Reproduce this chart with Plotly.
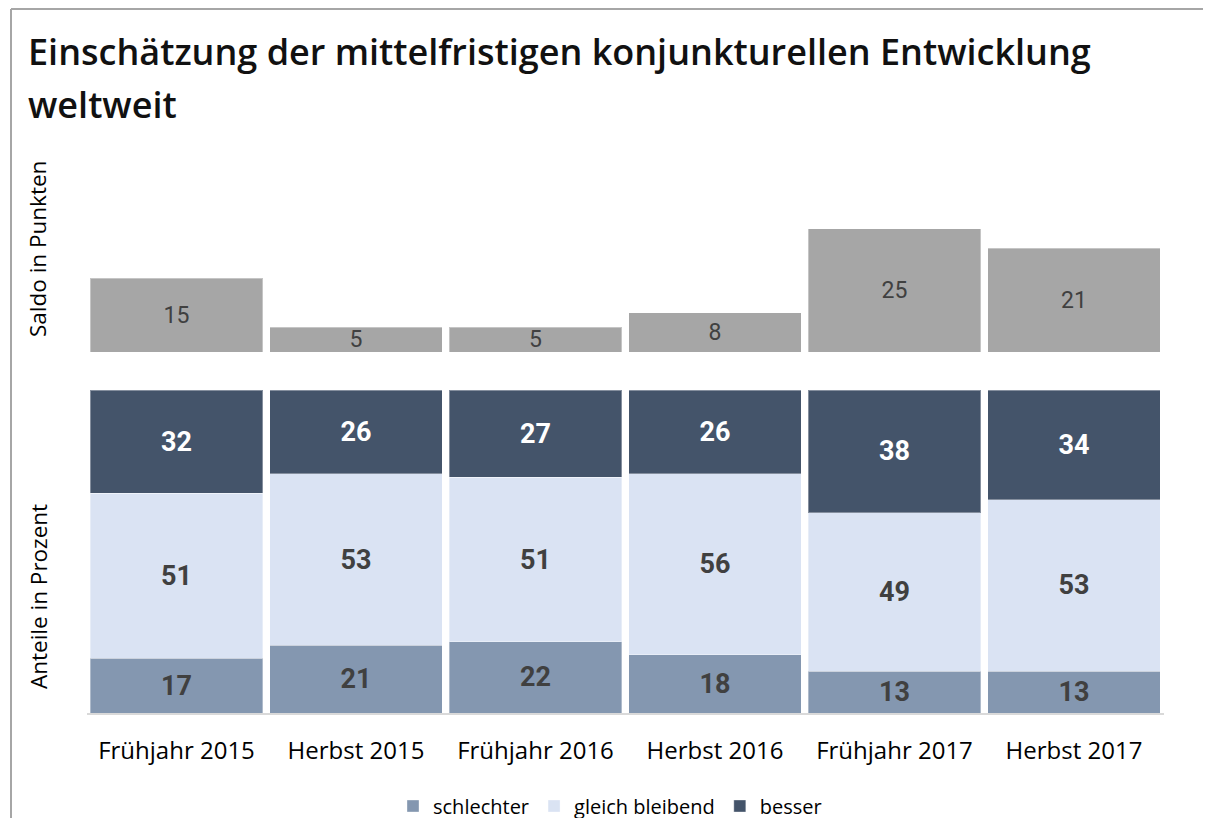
import plotly.graph_objects as go

# Kategorien (Befragungswellen)
wellen = ["Frühjahr 2015", "Herbst 2015", "Frühjahr 2016", "Herbst 2016", "Frühjahr 2017", "Herbst 2017"]

# Saldo in Punkten
saldo = [15, 5, 5, 8, 25, 21]

# Anteile in Prozent
schlechter = [17, 21, 22, 18, 13, 13]
gleich_bleibend = [51, 53, 51, 56, 49, 53]
besser = [32, 26, 27, 26, 38, 34]

# die Seite hat 8px Rand, daher Figur um 8px versetzt
OFF = 8
W, H = 1211 - OFF, 830


def fx(x):
    return (x - OFF) / W


def fy(y):
    return 1 - (y - OFF) / H


FONT = "Open Sans"
NUM_FONT = "Roboto"
edge = dict(color="rgba(255,255,255,0.35)", width=1)

fig = go.Figure()

# oberer Teil: Saldo
fig.add_trace(
    go.Bar(
        x=wellen, y=saldo, xaxis="x2", yaxis="y2",
        marker=dict(color="#a6a6a6", line=edge),
        text=saldo, textposition="inside", insidetextanchor="middle",
        textangle=0, constraintext="none",
        textfont=dict(family=NUM_FONT, size=23, color="#404040"),
        showlegend=False, hoverinfo="skip",
    )
)

# unterer Teil: Anteile gestapelt
for name, vals, col, tcol in [
    ("schlechter", schlechter, "#8497b0", "#404040"),
    ("gleich bleibend", gleich_bleibend, "#dae3f3", "#404040"),
    ("besser", besser, "#44546a", "#ffffff"),
]:
    fig.add_trace(
        go.Bar(
            x=wellen, y=vals, name=name, xaxis="x", yaxis="y",
            marker=dict(color=col, line=edge),
            text=vals, textposition="inside", insidetextanchor="middle",
            textangle=0, constraintext="none",
            textfont=dict(family=NUM_FONT, size=27, color=tcol, weight="bold"),
        )
    )

xdom = [fx(86.75), fx(1163.75)]

fig.update_layout(
    width=W, height=H,
    margin=dict(l=0, r=0, t=0, b=0),
    paper_bgcolor="white", plot_bgcolor="white",
    barmode="stack", bargap=0.04,
    font=dict(family=FONT, color="#000000"),
    xaxis=dict(
        domain=xdom, showline=True, linecolor="#d9d9d9", linewidth=2,
        showgrid=False, ticks="", tickfont=dict(size=24, color="#000000"),
        ticklabelstandoff=15,
    ),
    yaxis=dict(
        domain=[fy(713), fy(390)], range=[0, 100],
        showgrid=False, showticklabels=False, zeroline=False, showline=False,
    ),
    xaxis2=dict(
        domain=xdom, anchor="y2", matches="x", showticklabels=False,
        showgrid=False, showline=False, ticks="",
    ),
    yaxis2=dict(
        domain=[fy(352), fy(150)], range=[0, 202 / 4.93], anchor="x2",
        showgrid=False, showticklabels=False, zeroline=False, showline=False,
    ),
    legend=dict(
        orientation="h", x=fx(610), xanchor="center", y=fy(806), yanchor="middle",
        font=dict(size=20, color="#000000"), traceorder="normal",
    ),
    showlegend=True,
)

# Titel
for txt, yc in [("Einschätzung der mittelfristigen konjunkturellen Entwicklung", 52), ("weltweit", 105)]:
    fig.add_annotation(
        x=fx(26), y=fy(yc), xref="paper", yref="paper", xanchor="left", yanchor="middle",
        text=txt, showarrow=False,
        font=dict(size=36, weight=600, color="#111111"),
    )

# Achsentitel
fig.add_annotation(
    x=fx(38), y=fy(249), xref="paper", yref="paper", textangle=-90,
    xanchor="center", yanchor="middle",
    text="Saldo in Punkten", showarrow=False, font=dict(size=22.5, color="#000000"),
)
fig.add_annotation(
    x=fx(38), y=fy(597), xref="paper", yref="paper", textangle=-90,
    xanchor="center", yanchor="middle",
    text="Anteile in Prozent", showarrow=False, font=dict(size=22.5, color="#000000"),
)

# Rahmen
line = dict(color="#a6a6a6", width=2)
fig.add_shape(type="line", xref="paper", yref="paper", x0=fx(11), x1=1, y0=fy(9), y1=fy(9), line=line)
fig.add_shape(type="line", xref="paper", yref="paper", x0=fx(11), x1=fx(11), y0=0, y1=fy(9), line=line)

fig.write_html("out.html")
